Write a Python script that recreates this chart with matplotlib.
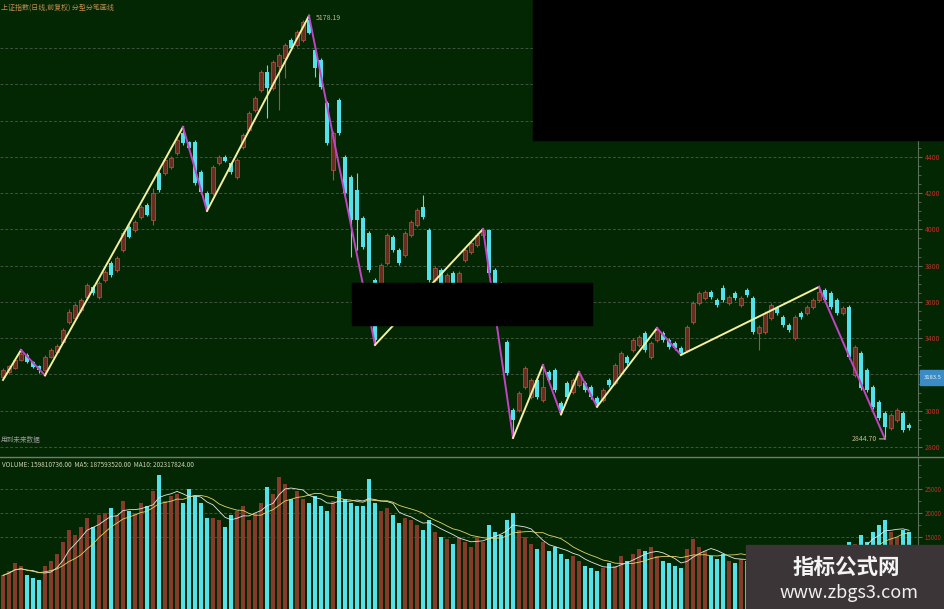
import numpy as np
import pandas as pd
import matplotlib
matplotlib.use("Agg")
import matplotlib.pyplot as plt
from matplotlib.patches import Rectangle
from matplotlib.ticker import MultipleLocator

plt.rcParams['font.family'] = ['Noto Sans CJK SC', 'DejaVu Sans']

# 日线数据 (上证指数, 前复权) 读自图片
opens = [
    3186, 3214, 3236, 3280, 3308, 3269, 3247, 3225, 3297, 3324,
    3379, 3489, 3511, 3555, 3627, 3683, 3627, 3721, 3815, 3776,
    3887, 4013, 3997, 4068, 4135, 4052, 4311, 4311, 4344, 4421,
    4532, 4482, 4482, 4317, 4201, 4201, 4366, 4399, 4366, 4289,
    4454, 4548, 4658, 4769, 4868, 4780, 4901, 4945, 5044, 5017,
    5044, 5155, 4989, 4934, 4697, 4328, 4714, 4399, 4289, 4217,
    4063, 3980, 3721, 3611, 3815, 3958, 3887, 3859, 3969, 4024,
    4124, 3997, 3721, 3776, 3705, 3760, 3705, 3831, 3875, 3914,
    3969, 3997, 3776, 3705, 3379, 3004, 3004, 3131, 3076, 3170,
    3059, 3214, 3225, 3043, 3153, 3103, 3142, 3153, 3131, 3070,
    3059, 3170, 3153, 3208, 3297, 3335, 3363, 3429, 3297, 3390,
    3429, 3390, 3374, 3346, 3335, 3489, 3594, 3622, 3655, 3611,
    3677, 3594, 3649, 3583, 3666, 3622, 3429, 3434, 3511, 3567,
    3517, 3473, 3401, 3539, 3539, 3572, 3611, 3666, 3649, 3611,
    3539, 3572, 3197, 3319, 3225, 3131, 3048, 2988, 2905, 2949,
    2988, 2921,
]
closes = [
    3225, 3247, 3280, 3313, 3269, 3241, 3225, 3297, 3335, 3357,
    3445, 3545, 3583, 3611, 3694, 3649, 3705, 3765, 3749, 3842,
    3980, 3958, 4041, 4124, 4080, 4201, 4217, 4383, 4394, 4493,
    4477, 4449, 4256, 4206, 4124, 4344, 4399, 4377, 4317, 4383,
    4521, 4642, 4725, 4868, 4780, 4923, 4962, 5017, 5000, 5089,
    5144, 5083, 4890, 4785, 4477, 4532, 4532, 4201, 4052, 4052,
    3903, 3776, 3390, 3804, 3969, 3887, 3815, 3980, 4041, 4107,
    4068, 3721, 3787, 3705, 3749, 3705, 3760, 3887, 3925, 3969,
    3997, 3760, 3705, 3500, 3208, 2949, 3098, 3236, 3170, 3076,
    3131, 3170, 3114, 2988, 3076, 3170, 3197, 3114, 3076, 3032,
    3114, 3142, 3252, 3319, 3263, 3390, 3407, 3335, 3374, 3445,
    3390, 3352, 3346, 3319, 3462, 3594, 3649, 3655, 3627, 3583,
    3611, 3627, 3622, 3622, 3638, 3434, 3462, 3539, 3583, 3539,
    3473, 3445, 3517, 3517, 3572, 3611, 3655, 3611, 3572, 3539,
    3567, 3297, 3352, 3126, 3114, 3021, 2960, 2910, 2977, 3004,
    2894, 2905,
]
highs = [
    3235, 3255, 3290, 3335, 3318, 3275, 3252, 3305, 3345, 3368,
    3455, 3560, 3595, 3622, 3705, 3692, 3715, 3775, 3825, 3852,
    3992, 4025, 4052, 4135, 4146, 4228, 4322, 4394, 4405, 4505,
    4565, 4490, 4495, 4330, 4210, 4355, 4410, 4410, 4372, 4392,
    4530, 4652, 4735, 4880, 4907, 4935, 4972, 5028, 5055, 5100,
    5155, 5178.19, 5000, 4945, 4710, 4545, 4725, 4410, 4300, 4311,
    4075, 3992, 3730, 3815, 3980, 3968, 3895, 3990, 4050, 4117,
    4190, 4005, 3797, 3785, 3758, 3770, 3770, 3897, 3935, 3978,
    4005, 4003, 3785, 3712, 3390, 3015, 3108, 3246, 3180, 3180,
    3252, 3225, 3235, 3052, 3163, 3180, 3214, 3162, 3140, 3080,
    3124, 3180, 3262, 3330, 3307, 3400, 3417, 3440, 3384, 3456,
    3438, 3400, 3384, 3356, 3472, 3605, 3660, 3666, 3666, 3620,
    3694, 3637, 3658, 3632, 3675, 3632, 3472, 3549, 3593, 3577,
    3526, 3482, 3527, 3548, 3582, 3620, 3683, 3675, 3658, 3620,
    3577, 3582, 3362, 3330, 3235, 3140, 3058, 2998, 2987, 3014,
    2998, 2930,
]
lows = [
    3180, 3205, 3230, 3272, 3262, 3233, 3210, 3195, 3290, 3318,
    3372, 3480, 3503, 3545, 3618, 3640, 3618, 3712, 3740, 3765,
    3878, 3950, 3988, 4060, 4072, 4024, 4208, 4300, 4335, 4410,
    4468, 4440, 4245, 4195, 4102, 4190, 4355, 4370, 4308, 4280,
    4445, 4540, 4650, 4760, 4614, 4770, 4658, 4835, 4990, 5005,
    5035, 5075, 4840, 4775, 4465, 4272, 4520, 4190, 3848, 3887,
    3892, 3765, 3363, 3600, 3805, 3878, 3805, 3850, 3960, 4015,
    4060, 3712, 3712, 3695, 3697, 3697, 3697, 3822, 3866, 3905,
    3960, 3750, 3695, 3490, 3198, 2850, 2995, 3122, 3066, 3066,
    3050, 3160, 3105, 2980, 3066, 3093, 3133, 3105, 3066, 3022,
    3050, 3133, 3143, 3198, 3254, 3325, 3354, 3325, 3288, 3380,
    3380, 3342, 3337, 3308, 3325, 3480, 3585, 3612, 3618, 3574,
    3602, 3585, 3612, 3574, 3630, 3425, 3335, 3425, 3502, 3530,
    3464, 3436, 3390, 3508, 3530, 3562, 3602, 3602, 3562, 3530,
    3530, 3287, 3187, 3115, 3105, 3012, 2950, 2844.70, 2895, 2940,
    2885, 2895,
]
# 成交量 (万)
volumes = [
    7000, 8000, 9500, 9000, 7000, 6500, 6000, 9000, 10000, 11500,
    14000, 16500, 15500, 17000, 19000, 17000, 19500, 20000, 21000, 19500,
    22500, 20500, 20000, 22000, 21500, 24500, 28000, 22500, 23500, 24000,
    22000, 25000, 23500, 22000, 19000, 19000, 18500, 17000, 19500, 20500,
    21500, 18500, 20000, 22000, 25500, 24000, 27500, 26000, 23000, 24500,
    23000, 22000, 23500, 21500, 20500, 22500, 24500, 23000, 22000, 21500,
    21500, 27000, 22000, 20500, 21000, 19500, 18000, 19000, 18500, 17500,
    16500, 18500, 16000, 15000, 14500, 13500, 15000, 14000, 13000, 15000,
    14000, 17500, 16000, 15500, 18500, 20000, 16500, 15000, 13500, 12500,
    14000, 12000, 13000, 11500, 10500, 11000, 10000, 9000, 8500, 8000,
    8500, 9500, 9000, 11000, 10000, 11500, 12500, 12000, 13000, 11000,
    10000, 9500, 9000, 8500, 12500, 14500, 13000, 12000, 11000, 10500,
    11500, 10000, 9500, 10500, 10000, 13000, 12000, 11500, 11000, 10500,
    10000, 9500, 10000, 9000, 9500, 10500, 11000, 10500, 11500, 11000,
    10000, 14000, 13500, 15500, 14000, 16000, 17500, 18500, 16000, 15000,
    16500, 15981,
]
# 分型分笔折线的转折点
pivot_idx = [0, 3, 7, 30, 34, 51, 62, 80, 85, 90, 93, 96, 99, 109, 113, 136, 147]
pivot_price = [3170, 3335, 3195, 4565, 4102, 5178.19, 3363, 4002, 2850, 3252,
               2980, 3214, 3022, 3456, 3308, 3683, 2844.70]

price_ticks = [2800, 3000, 3200, 3400, 3600, 3800, 4000, 4200, 4400, 4600, 4800, 5000]
price_labels = ['2800', '3000', '', '3400', '3600', '3800', '4000', '4200', '4400',
                '4600', '4800', '5000']
vol_ticks = [15000, 20000, 25000]
vol_labels = ['15000', '20000', '25000']
last_price_tag = '3183.5'

title_text = '上证指数(日线,前复权) 分型分笔画线'
vol_text = 'VOLUME: 159810736.00  MA5: 187593520.00  MA10: 202317824.00'

BG = '#032603'
GRID_C = '#3e543e'
AXIS_C = '#5a705a'
LABEL_C = '#c03028'
UP_FACE = '#6a2c1e'
UP_EDGE = '#a8503a'
DN_C = '#52e2ec'
VOL_UP = '#853a2a'
ZZ_UP = '#f4f0a0'
ZZ_DN = '#c244c4'

W, H = 945, 609
fig = plt.figure(figsize=(W / 100, H / 100), dpi=100)
fig.patch.set_facecolor(BG)

ax = fig.add_axes([0, 1 - 455 / H, 918 / W, 455 / H])
axv = fig.add_axes([0, 0, 918 / W, 151 / H])

x = np.arange(len(closes))
o = np.array(opens, dtype=float)
c = np.array(closes, dtype=float)
h = np.array(highs, dtype=float)
l = np.array(lows, dtype=float)
up = c >= o

# K线
wick_cols = np.where(up, UP_EDGE, DN_C)
ax.vlines(x, l, h, colors=wick_cols, lw=0.8, zorder=2)
body_lo = np.minimum(o, c)
body_h = np.maximum(np.abs(c - o), 5)
ax.bar(x[up], body_h[up], 0.7, bottom=body_lo[up], color=UP_FACE,
       edgecolor=UP_EDGE, linewidth=0.6, zorder=3)
ax.bar(x[~up], body_h[~up], 0.7, bottom=body_lo[~up], color=DN_C,
       linewidth=0, zorder=3)

# 折线
for k in range(len(pivot_idx) - 1):
    y0, y1 = pivot_price[k], pivot_price[k + 1]
    col = ZZ_UP if y1 > y0 else ZZ_DN
    ax.plot([pivot_idx[k], pivot_idx[k + 1]], [y0, y1], color=col, lw=1.4, zorder=4)

imax = int(np.argmax(h))
imin = int(np.argmin(l))
ax.annotate(f'{h[imax]:.2f}', xy=(imax, h[imax]), xytext=(5, 1), textcoords='offset points',
            ha='left', va='top', fontsize=5, color='#c8b890', zorder=5)
ax.annotate(f'{l[imin]:.2f}', xy=(imin, l[imin]), xytext=(-6, 0), textcoords='offset points',
            ha='right', va='center', fontsize=5, color='#c8b890', zorder=5,
            arrowprops=dict(arrowstyle='-', color='#c8b890', lw=0.8, shrinkA=0, shrinkB=0))

ax.text(0.001, 0.033, '用到未来数据', transform=ax.transAxes, fontsize=4.8,
        color='#9a9a9a', va='center', ha='left')

for a in (ax, axv):
    a.set_facecolor(BG)
    a.set_xlim(-0.5, 152.5)
    for s in ['left', 'top', 'bottom']:
        a.spines[s].set_visible(False)
    a.spines['right'].set_color(AXIS_C)
    a.yaxis.tick_right()
    a.set_xticks([])
    a.tick_params(axis='y', which='both', colors=AXIS_C, labelcolor=LABEL_C,
                  labelsize=5, pad=2, length=3)
    a.tick_params(axis='y', which='minor', length=2)
    a.set_axisbelow(True)
    a.grid(axis='y', color=GRID_C, ls=(0, (3, 2)), lw=0.7)

ax.set_ylim(2756, 5265)
ax.set_yticks(price_ticks, price_labels)
ax.yaxis.set_minor_locator(MultipleLocator(50))

# 成交量
vol = np.array(volumes, dtype=float)
axv.bar(x[up], vol[up], 0.65, color=VOL_UP, linewidth=0, zorder=2)
axv.bar(x[~up], vol[~up], 0.65, color=DN_C, linewidth=0, zorder=2)
vs = pd.Series(vol)
axv.plot(x, vs.rolling(5, min_periods=1).mean(), color='#e6e6e6', lw=0.6, zorder=3)
axv.plot(x, vs.rolling(10, min_periods=1).mean(), color='#e6d46a', lw=0.6, zorder=3)
axv.set_ylim(0, 31460)
axv.set_yticks(vol_ticks, vol_labels)
axv.tick_params(axis='y', labelsize=4.4)
axv.yaxis.set_minor_locator(MultipleLocator(2500))

# 分隔线和文字
fig.add_artist(plt.Line2D([0, 1], [1 - 456.5 / H] * 2, transform=fig.transFigure,
                          color='#6e7e6e', lw=1.0))
fig.text(1 / W, 1 - 7.5 / H, title_text, fontsize=5, color='#c4904e', va='center', ha='left')
fig.text(2 / W, 1 - 465 / H, vol_text, fontsize=4.6, color='#d0d0b0', va='center', ha='left')

# 当前价格标记
fig.add_artist(Rectangle((920 / W, 1 - 385 / H), 25 / W, 15 / H, transform=fig.transFigure,
                         color='#3b8cc4', zorder=6))
fig.text(932.5 / W, 1 - 377.5 / H, last_price_tag, fontsize=4.2, color='#e8f4ff', ha='center',
         va='center', zorder=7)

# 遮挡块
fig.add_artist(Rectangle((533 / W, 1 - 140 / H), 412 / W, 140 / H, transform=fig.transFigure,
                         color='black', zorder=10))
fig.add_artist(Rectangle((352 / W, 1 - 325 / H), 240 / W, 42 / H, transform=fig.transFigure,
                         color='black', zorder=10))

# 水印
fig.add_artist(Rectangle((746 / W, 0), 199 / W, 64 / H, transform=fig.transFigure,
                         color='#3b3537', zorder=11))
fig.text(846 / W, 1 - 567 / H, '指标公式网', fontsize=15.5, fontweight='bold', color='#f4f4f4',
         ha='center', va='center', zorder=12)
fig.text(849 / W, 1 - 593 / H, 'www.zbgs3.com', fontsize=13, color='#f0f0f0',
         ha='center', va='center', zorder=12)

fig.savefig('out.png', dpi=100, facecolor=BG)
